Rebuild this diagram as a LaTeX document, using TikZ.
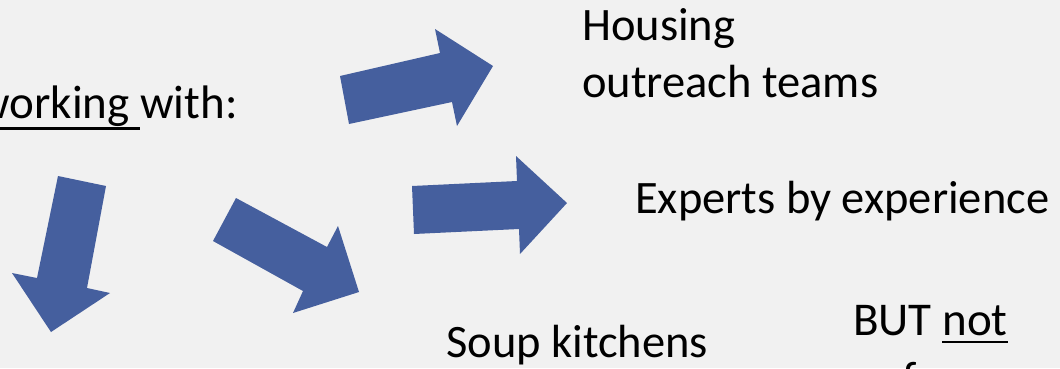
\documentclass[tikz,border=0pt]{standalone}
\usepackage{fontspec}
\setmainfont{Carlito}
\definecolor{slidebg}{RGB}{241,241,241}
\definecolor{arrowblue}{RGB}{69,95,158}
% thick underline: #1 = lower edge below baseline, #2 = text
\newcommand{\thickul}[2]{\setbox0\hbox{#2}\rlap{\rule[-#1]{\wd0}{2.5pt}}\box0}
\tikzset{
  blockarrow/.style={fill=arrowblue, draw=none},
  lighttext/.style={anchor=base west, inner sep=0pt, font=\fontsize{46.5}{56}\selectfont},
  darktext/.style={anchor=base west, inner sep=0pt, font=\fontsize{47}{56}\selectfont}
}
\begin{document}
\begin{tikzpicture}[x=1pt,y=-1pt]
\useasboundingbox (0,0) rectangle (1060,368);
\fill[slidebg] (0,0) rectangle (1060,368);
\clip (0,0) rectangle (1060,368);

% block arrows
\fill[blockarrow] (340,76) -- (440,53) -- (435,29) -- (493,66) -- (457,126) -- (452,102) -- (349,124) -- cycle;
\fill[blockarrow] (412,186) -- (517,181) -- (516,156) -- (567,203) -- (520,254) -- (519,229) -- (414,234) -- cycle;
\fill[blockarrow] (58,176) -- (106,186) -- (87,288) -- (110,293) -- (51,332) -- (12,273) -- (37,278) -- cycle;
\fill[blockarrow] (236,198) -- (327,247) -- (338,226) -- (359,292) -- (293,313) -- (303,291) -- (213,241) -- cycle;

% labels
\node[darktext, anchor=base east] (working) at (238,118) {\thickul{11.5pt}{working\ }with:};
\node[lighttext] (housing) at (582,40) {Housing};
\node[lighttext] (outreach) at (582,97) {outreach teams};
\node[lighttext] (experts) at (635,213) {Experts by experience};
\node[lighttext] (soup) at (446,357) {Soup kitchens};
\node[darktext] (butnot) at (853,335) {BUT \thickul{8pt}{not}};
\node[darktext] (nextline) at (902,394) {f};
\end{tikzpicture}
\end{document}
